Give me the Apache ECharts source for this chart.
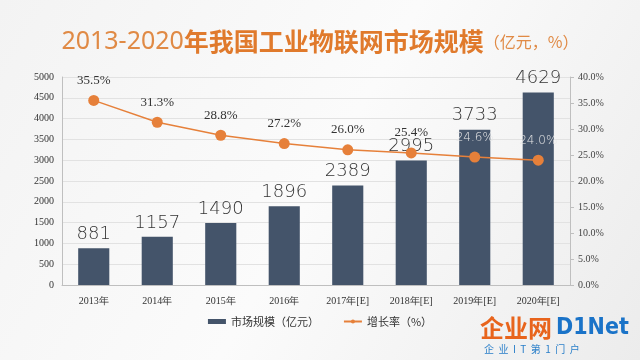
<!DOCTYPE html>
<html><head><meta charset="utf-8">
<script src="https://cdn.jsdelivr.net/npm/echarts@6/dist/echarts.min.js"></script>
<style>html,body{margin:0;padding:0;}#c{width:640px;height:360px;}</style>
</head><body><div id="c"></div>
<script>
var categories = ['2013年','2014年','2015年','2016年','2017年[E]','2018年[E]','2019年[E]','2020年[E]'];
var marketSize = [881,1157,1490,1896,2389,2995,3733,4629];
var growthRate = [35.5,31.3,28.8,27.2,26.0,25.4,24.6,24.0];
var barName = '市场规模（亿元）';
var lineName = '增长率（%）';

var chart = echarts.init(document.getElementById('c'));
chart.setOption({
  backgroundColor: new echarts.graphic.LinearGradient(0,0,1,1,[{offset:0,color:'#f3f3f3'},{offset:0.5,color:'#fbfbfb'},{offset:1,color:'#ececec'}]),
  title: {
    text: '{a|2013-2020}{b|年我国工业物联网市场规模}{c|（亿元，%）}',
    left: 'center', top: 24,
    textStyle: { rich: {
      a: {fontSize: 25, color: '#e08a45', fontFamily: 'Noto Sans', fontWeight: 'normal'},
      b: {fontSize: 25, color: '#e07a2c', fontFamily: 'Noto Sans CJK SC', fontWeight: 'bold'},
      c: {fontSize: 16, color: '#e08a45', fontFamily: 'Noto Sans CJK SC', fontWeight: 'normal'}
    }}
  },
  grid: { left: 62, right: 70, top: 77, bottom: 75 },
  legend: {
    bottom: 28, left: 'center', itemGap: 24, itemWidth: 18, itemHeight: 5,
    textStyle: {fontSize: 11, color: '#333', fontFamily: 'Noto Sans CJK SC'},
    data: [{name: barName, icon: 'rect'}, {name: lineName}]
  },
  xAxis: {
    type: 'category', data: categories,
    axisLine: {lineStyle: {color: '#bfbfbf'}},
    axisTick: {show: false},
    axisLabel: {fontSize: 10, color: '#333', margin: 11, fontFamily: 'Liberation Serif'}
  },
  yAxis: [{
    type: 'value', min: 0, max: 5000, interval: 500,
    axisLine: {show: true, lineStyle: {color: '#bfbfbf'}},
    axisTick: {show: false},
    axisLabel: {fontSize: 10, color: '#333', fontFamily: 'Liberation Serif', margin: 8, formatter: function(v){return String(v);}},
    splitLine: {lineStyle: {color: '#e2e2e2'}}
  },{
    type: 'value', min: 0, max: 40, interval: 5,
    axisLine: {show: true, lineStyle: {color: '#bfbfbf'}},
    axisTick: {show: true, length: 4, lineStyle: {color: '#bfbfbf'}},
    axisLabel: {fontSize: 10, color: '#444', fontFamily: 'Liberation Serif', formatter: function(v){return v.toFixed(1)+'%';}},
    splitLine: {show: false}
  }],
  series: [{
    name: barName, type: 'bar', data: marketSize, barWidth: '49%',
    itemStyle: {color: '#44546a'},
    label: {show: true, position: 'top', distance: 5, fontSize: 18, color: '#333', fontFamily: 'DejaVu Sans', fontWeight: 'lighter'}
  },{
    name: lineName, type: 'line', yAxisIndex: 1, data: growthRate,
    symbol: 'circle', symbolSize: 11,
    lineStyle: {color: '#e6803a', width: 1.5},
    itemStyle: {color: '#e6803a'},
    label: {show: true, position: 'top', distance: 8, fontSize: 13, color: '#333', fontFamily: 'Liberation Serif',
      formatter: function(p){return p.value.toFixed(1)+'%';}},
    labelLayout: {hideOverlap: false},
    z: 5
  }],
  graphic: [
    {type: 'text', left: 480, top: 316, style: {text: '企业网', fontSize: 24, fontWeight: 'bold', fill: '#e8641c', fontFamily: 'Noto Sans CJK SC'}, z: 10},
    {type: 'text', left: 556, top: 317, style: {text: 'D1Net', fontSize: 23, fontWeight: 'bold', fill: '#1a73c8', fontFamily: 'DejaVu Sans Condensed'}, z: 10},
    {type: 'text', left: 484, top: 344, style: {text: '企  业  I  T  第  1  门  户', fontSize: 10, fill: '#2a7fc9', fontFamily: 'Noto Sans CJK SC'}, z: 10}
  ]
});
chart.setOption({series: [{}, {data: growthRate.map(function(v,i){
  return i >= 6 ? {value: v, label: {color: '#e8e8e8', fontFamily: 'DejaVu Sans', fontWeight: 'lighter', fontSize: 12}} : v;
})}]});
</script>
</body></html>
